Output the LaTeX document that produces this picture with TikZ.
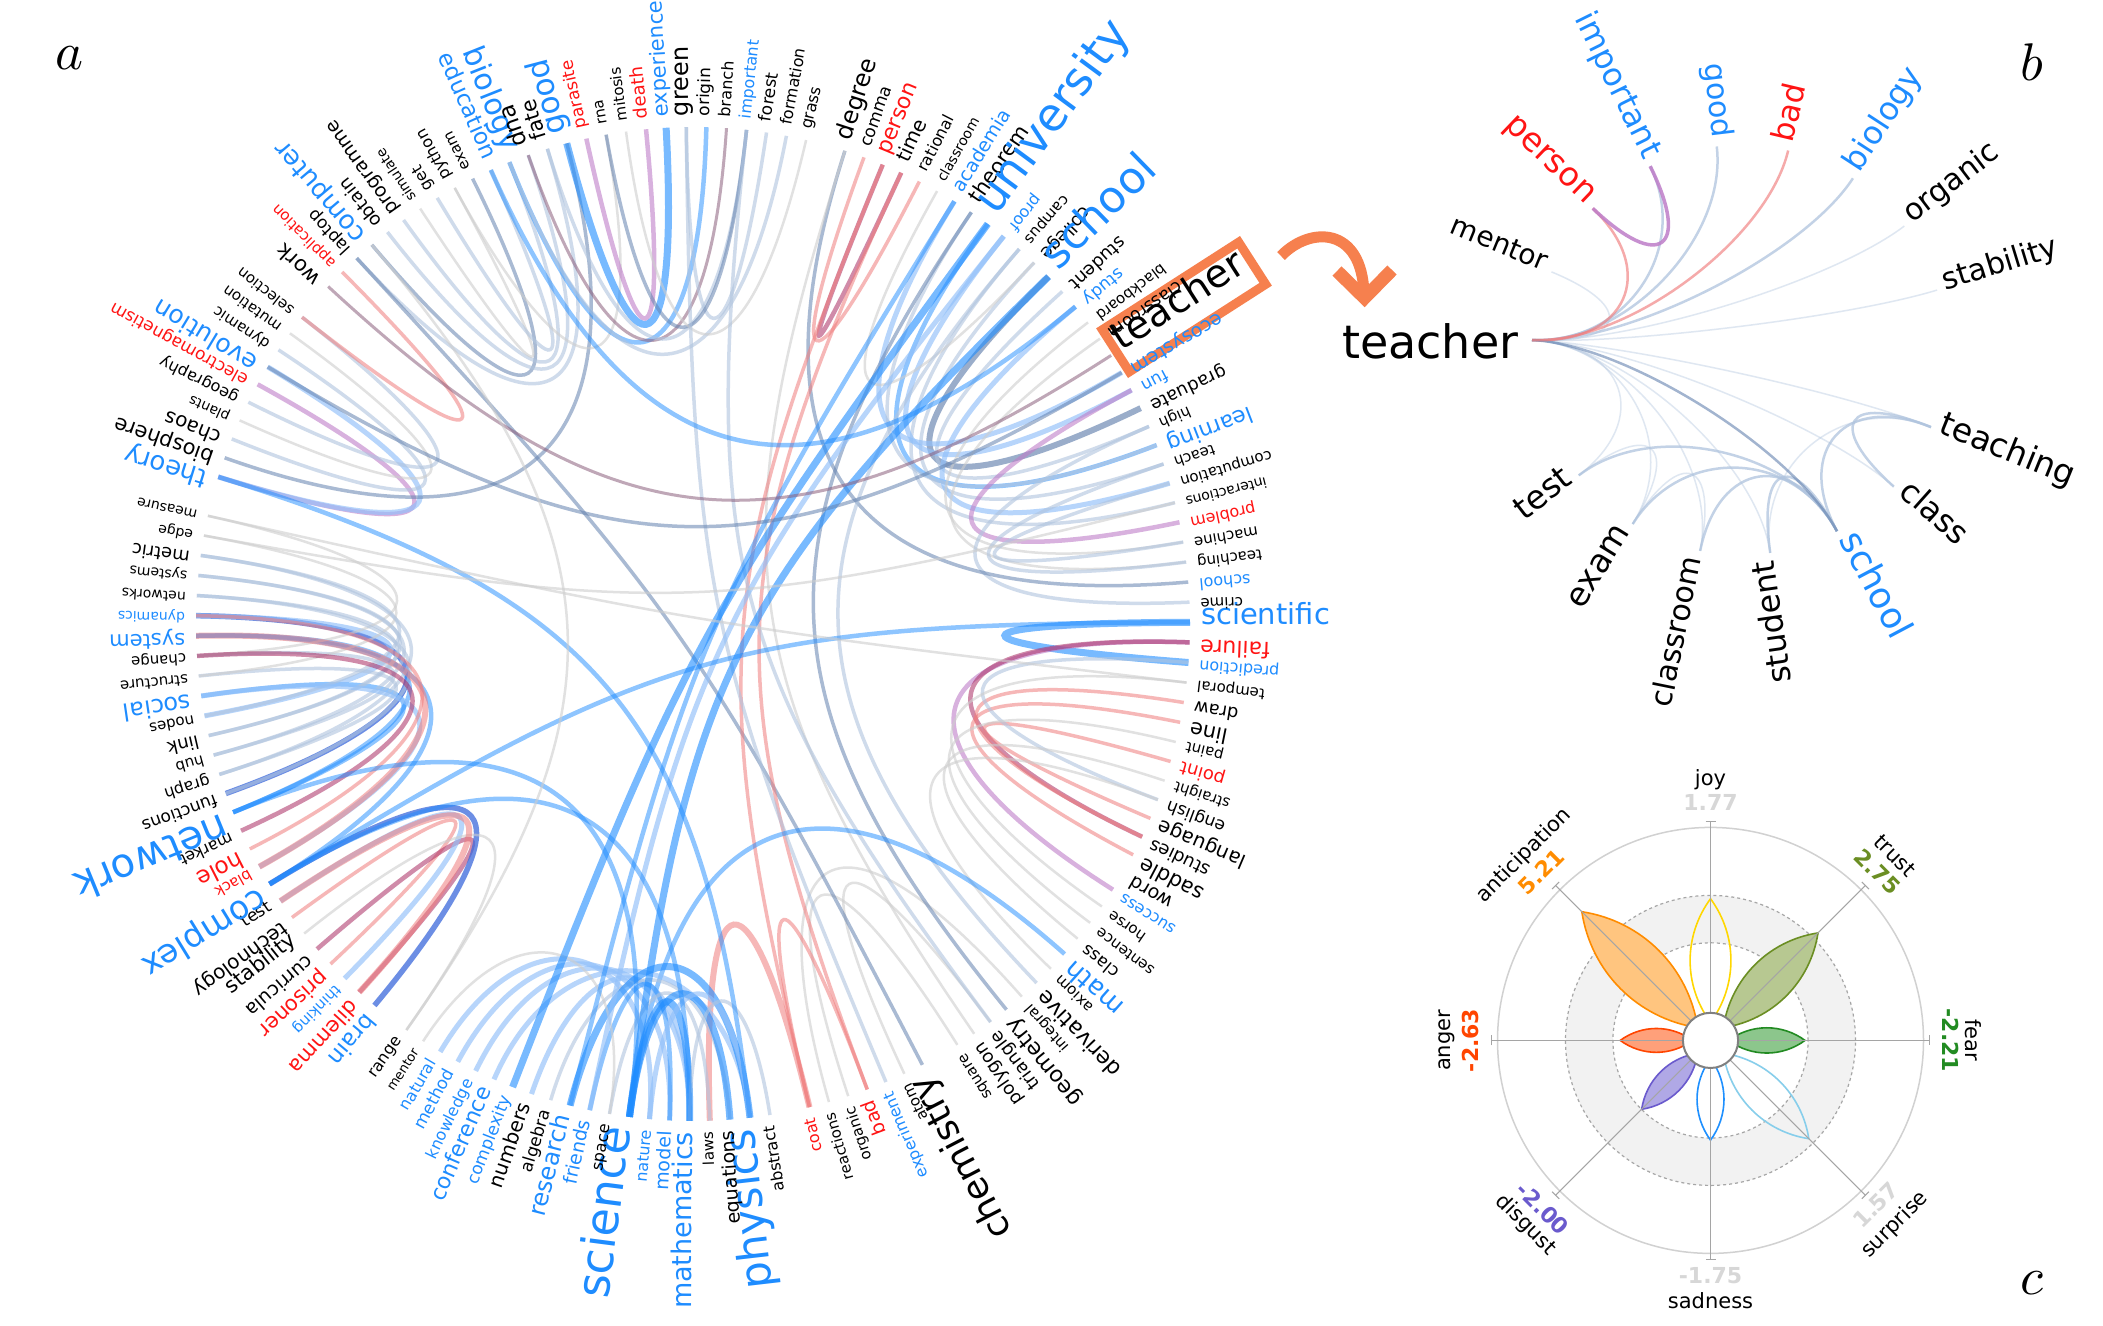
\documentclass[tikz,border=0pt]{standalone}
\usepackage{fontspec}
\setmainfont{DejaVu Sans}
\usetikzlibrary{calc}
\definecolor{wblue}{RGB}{30,140,255}
\definecolor{wred}{RGB}{255,20,20}
\definecolor{lsb}{RGB}{176,196,222}
\definecolor{stb}{RGB}{100,130,175}
\definecolor{pnk}{RGB}{240,125,125}
\definecolor{purp}{RGB}{190,125,200}
\definecolor{dmag}{RGB}{170,45,100}
\definecolor{lgr}{RGB}{205,205,205}
\definecolor{lbl}{RGB}{145,192,250}
\definecolor{royal}{RGB}{60,105,220}
\definecolor{mauve}{RGB}{140,95,125}
\definecolor{orng}{RGB}{246,128,78}
\definecolor{numgray}{RGB}{215,215,215}
\definecolor{axc}{RGB}{165,165,165}
\definecolor{antf}{RGB}{255,197,127}\definecolor{antd}{RGB}{255,140,0}
\definecolor{trf}{RGB}{183,200,145}\definecolor{trd}{RGB}{107,142,35}
\definecolor{fef}{RGB}{140,198,140}\definecolor{fed}{RGB}{34,139,34}
\definecolor{sud}{RGB}{135,206,235}\definecolor{sad}{RGB}{30,144,255}
\definecolor{dif}{RGB}{176,168,230}\definecolor{did}{RGB}{106,90,205}
\definecolor{anf}{RGB}{255,160,122}\definecolor{and}{RGB}{255,69,0}
\definecolor{joyd}{RGB}{255,215,0}
\tikzset{
 wordn/.style={inner sep=0pt, outer sep=0pt},
 eB/.style={draw=wblue, draw opacity=.6, line width=7pt},
 eb/.style={draw=wblue, draw opacity=.5, line width=4.5pt},
 eR/.style={draw=royal, draw opacity=.75, line width=5.5pt},
 el/.style={draw=lbl, draw opacity=.65, line width=5pt},
 es/.style={draw=lsb, draw opacity=.6, line width=3.5pt},
 eS/.style={draw=stb, draw opacity=.55, line width=3.5pt},
 eST/.style={draw=stb, draw opacity=.65, line width=6pt},
 ep/.style={draw=pnk, draw opacity=.55, line width=3.5pt},
 epT/.style={draw=pnk, draw opacity=.55, line width=6pt},
 eP/.style={draw=purp, draw opacity=.6, line width=4.5pt},
 em/.style={draw=dmag, draw opacity=.55, line width=4.5pt},
 eg/.style={draw=lgr, draw opacity=.6, line width=2.5pt},
 eM/.style={draw=mauve, draw opacity=.55, line width=3pt},
 sbS/.style={draw=stb, draw opacity=.6, line width=2.5pt},
 sbs/.style={draw=lsb, draw opacity=.75, line width=2.5pt},
 sbf/.style={draw=lsb, draw opacity=.4, line width=1.5pt},
 sbp/.style={draw=pnk, draw opacity=.65, line width=2.5pt},
 sbP/.style={draw=purp, draw opacity=.85, line width=3.5pt},
 clab/.style={inner sep=0pt, font=\fontsize{21}{21}\selectfont},
 cnum/.style={inner sep=0pt, font=\fontsize{22}{22}\selectfont\bfseries},
 plab/.style={inner sep=0pt, scale=5.3},
}
% word of panel a: slot, text, size, colour, flip
\newcommand{\W}[5]{%
  \pgfmathsetmacro\wth{0.2-(#1-1)*2.32258}%
  \pgfmathsetmacro\wthf{\wth+180}%
  \ifnum#5=0\relax
    \node[wordn, rotate=\wth, anchor=mid west, text=#4, font=\fontsize{#3}{#3}\selectfont] (w#1) at (\wth:508) {#2};%
  \else
    \node[wordn, rotate=\wthf, anchor=mid east, text=#4, font=\fontsize{#3}{#3}\selectfont] (w#1) at (\wth:508) {#2};%
  \fi}
% edge of panel a
\newcommand{\E}[4][x]{%
  \pgfmathsetmacro\edgA{0.2-(#2-1)*2.32258}%
  \pgfmathsetmacro\edgB{0.2-(#3-1)*2.32258}%
  \pgfmathsetmacro\edgD{abs(#2-#3)*2.32258}%
  \pgfmathsetmacro\edgD{min(\edgD,360-\edgD)}%
  \def\edgT{#1}\def\edgX{x}%
  \ifx\edgT\edgX\pgfmathsetmacro\edgR{495*0.52*(1-\edgD/180)}\else\pgfmathsetmacro\edgR{#1}\fi
  \draw[#4] (p#2) .. controls (\edgA:\edgR) and (\edgB:\edgR) .. (p#3);}
% word of panel b
\newcommand{\BW}[6]{%
  \pgfmathsetmacro\bwa{#2}\pgfmathsetmacro\bwf{#2+180}%
  \ifnum#6=0\relax
    \node[wordn, rotate=\bwa, anchor=mid west, text=#5, font=\fontsize{#4}{#4}\selectfont] (t#1) at ($(cb)+(#2:213)$) {#3};%
  \else
    \node[wordn, rotate=\bwf, anchor=mid east, text=#5, font=\fontsize{#4}{#4}\selectfont] (t#1) at ($(cb)+(#2:213)$) {#3};%
  \fi
  \coordinate (#1) at ($(cb)+(#2:205)$);}
\newcommand{\BE}[3]{\draw[#3] (#1) .. controls ($(#1)!0.45!(cb)$) and ($(#2)!0.45!(cb)$) .. (#2);}
% petal of panel c: angle, tip radius, draw colour, fill
\newcommand{\petal}[4]{%
  \begin{scope}[rotate=#1]
    \pgfmathsetmacro\ptL{#2-18}%
    \pgfmathsetmacro\ptA{18+0.3*\ptL}\pgfmathsetmacro\ptB{18+0.7*\ptL}\pgfmathsetmacro\ptH{0.22*\ptL}%
    \path[draw=#3, line width=1.6pt, #4] (18,0) .. controls (\ptA,\ptH) and (\ptB,\ptH) .. (#2,0) .. controls (\ptB,-\ptH) and (\ptA,-\ptH) .. cycle;
  \end{scope}}
\begin{document}
\begin{tikzpicture}[x=1pt,y=1pt]
\fill[white] (0,0) rectangle (2103,-1325);
\useasboundingbox (0,0) rectangle (2103,-1325);

%================ panel a =================
\begin{scope}[shift={(693,-624)}]
\foreach \k in {1,...,155}{\pgfmathsetmacro\pth{0.2-(\k-1)*2.32258}\coordinate (p\k) at (\pth:497);}
% left cluster
\E{70}{79}{eR}\E{69}{75}{eb}\E{69}{78}{eb}\E{65}{78}{eb}
\E{71}{82}{es}\E{72}{81}{es}\E{73}{80}{es}\E{74}{79}{el}
\E{76}{71}{es}\E{77}{72}{es}\E{76}{83}{eg}\E{77}{84}{eg}
\E{80}{70}{es}\E{81}{73}{es}\E{82}{74}{es}\E{75}{66}{el}
\E{67}{79}{ep}\E{68}{77}{em}\E{66}{78}{epT}
% lower left
\E{60}{63}{ep}\E{61}{58}{em}\E{57}{65}{eR}\E{59}{64}{el}\E{62}{55}{eg}\E{58}{64}{epT}
% theory group
\E{86}{91}{eP}\E{86}{92}{el}\E{88}{93}{es}\E{89}{94}{eg}\E{90}{95}{es}\E{87}{111}{eS}
% top left
\E{100}{106}{eS}\E{101}{109}{es}\E{102}{108}{es}\E{99}{110}{es}\E{103}{105}{eg}
\E{104}{107}{es}\E{98}{95}{ep}\E{105}{113}{eg}
% top
\E{111}{116}{eB}\E{112}{115}{eP}\E{108}{118}{eb}\E{109}{119}{eM}\E{110}{120}{es}
\E{117}{121}{es}\E{120}{113}{eS}\E{122}{108}{es}\E{114}{123}{eg}
% top right
\E{127}{128}{em}\E{126}{129}{ep}\E{133}{147}{eb}\E{137}{145}{eST}\E{136}{148}{es}
\E{138}{146}{es}\E{139}{149}{el}\E{135}{150}{es}\E{131}{143}{el}\E{132}{147}{es}
\E{134}{144}{el}\E{140}{152}{eg}\E{141}{153}{eg}\E{144}{151}{eP}\E{152}{149}{es}
\E{153}{148}{es}\E{155}{146}{es}\E{130}{136}{eg}\E{154}{125}{eS}
% right
\E{1}{3}{eB}\E{2}{15}{eP}\E{2}{12}{em}\E{6}{13}{ep}\E{8}{11}{ep}\E{5}{12}{ep}
\E{3}{10}{es}\E{4}{16}{eg}\E{7}{17}{eg}\E{9}{18}{eg}\E{10}{20}{eg}
% bottom right
\E{24}{29}{eg}\E{26}{32}{eg}\E{22}{33}{eg}\E{23}{132}{eS}\E{21}{135}{es}\E{25}{125}{eg}
\E{28}{99}{eS}\E{31}{34}{ep}\E{34}{39}{epT}\E{31}{128}{ep}\E{34}{127}{ep}
\E{30}{117}{es}\E{24}{120}{es}\E{19}{43}{eb}
% bottom
\E[320]{53}{42}{el}\E[320]{52}{41}{el}\E[320]{51}{40}{el}\E[320]{50}{37}{el}
\E[320]{48}{40}{el}\E[320]{47}{38}{es}\E[300]{46}{37}{eB}\E[320]{45}{41}{eb}
\E[330]{44}{39}{es}\E[330]{43}{38}{eB}\E[340]{43}{40}{eB}\E[330]{42}{37}{el}
\E[340]{40}{36}{es}\E[320]{54}{44}{eg}
% long
\E{49}{133}{eB}\E{43}{137}{eB}\E{46}{131}{eb}\E{45}{134}{el}\E{86}{37}{eb}
\E{1}{65}{eb}\E{107}{139}{eb}\E{97}{142}{eM}\E{92}{143}{eS}\E{69}{43}{eb}
\E{65}{40}{eb}\E{84}{4}{eg}\E{83}{150}{eg}\E{55}{100}{eg}

% highlight box (under the words)
\node[draw=orng, line width=9pt, rotate=32.7, minimum width=162pt, minimum height=50pt, inner sep=0pt] (tbox) at (491,317) {};

% words
\W{1}{scientific}{29}{wblue}{0}
\W{2}{failure}{22}{wred}{1}
\W{3}{prediction}{16}{wblue}{1}
\W{4}{temporal}{15}{black}{1}
\W{5}{draw}{18}{black}{1}
\W{6}{line}{21}{black}{1}
\W{7}{paint}{15}{black}{1}
\W{8}{point}{18}{wred}{1}
\W{9}{straight}{15}{black}{1}
\W{10}{english}{17}{black}{1}
\W{11}{language}{20}{black}{1}
\W{12}{studies}{18}{black}{1}
\W{13}{saddle}{21}{black}{1}
\W{14}{word}{19}{black}{1}
\W{15}{success}{16}{wblue}{1}
\W{16}{horse}{15}{black}{1}
\W{17}{sentence}{15}{black}{1}
\W{18}{class}{17}{black}{1}
\W{19}{math}{26}{wblue}{1}
\W{20}{axiom}{15}{black}{1}
\W{21}{derivative}{22}{black}{1}
\W{22}{integral}{15}{black}{1}
\W{23}{geometry}{22}{black}{1}
\W{24}{triangle}{18}{black}{1}
\W{25}{polygon}{18}{black}{1}
\W{26}{square}{15}{black}{1}
\W{28}{chemistry}{36}{black}{1}
\W{29}{atom}{15}{black}{1}
\W{30}{experiment}{16}{wblue}{1}
\W{31}{bad}{19}{wred}{1}
\W{32}{organic}{15}{black}{1}
\W{33}{reactions}{15}{black}{1}
\W{34}{coat}{16}{wred}{1}
\W{36}{abstract}{16}{black}{1}
\W{37}{physics}{43}{wblue}{1}
\W{38}{equations}{19}{black}{1}
\W{39}{laws}{15}{black}{1}
\W{40}{mathematics}{27}{wblue}{1}
\W{41}{model}{19}{wblue}{1}
\W{42}{nature}{16}{wblue}{1}
\W{43}{science}{46}{wblue}{1}
\W{44}{space}{16}{black}{1}
\W{45}{friends}{19}{wblue}{1}
\W{46}{research}{24}{wblue}{1}
\W{47}{algebra}{17}{black}{1}
\W{48}{numbers}{20}{black}{1}
\W{49}{complexity}{17}{wblue}{1}
\W{50}{conference}{22}{wblue}{1}
\W{51}{knowledge}{16}{wblue}{1}
\W{52}{method}{17}{wblue}{1}
\W{53}{natural}{16}{wblue}{1}
\W{54}{mentor}{13}{black}{1}
\W{55}{range}{16}{black}{1}
\W{57}{brain}{23}{wblue}{0}
\W{58}{dilemma}{21}{wred}{0}
\W{59}{thinking}{15}{wblue}{0}
\W{60}{prisoner}{21}{wred}{0}
\W{61}{curricula}{19}{black}{0}
\W{62}{stability}{21}{black}{1}
\W{63}{technology}{20}{black}{0}
\W{64}{test}{17}{black}{1}
\W{65}{complex}{33}{wblue}{0}
\W{66}{black}{15}{wred}{0}
\W{67}{hole}{23}{wred}{0}
\W{68}{market}{16}{black}{0}
\W{69}{network}{40}{wblue}{0}
\W{70}{functions}{17}{black}{0}
\W{71}{graph}{16}{black}{0}
\W{72}{hub}{15}{black}{0}
\W{73}{link}{18}{black}{0}
\W{74}{nodes}{15}{black}{0}
\W{75}{social}{24}{wblue}{0}
\W{76}{structure}{15}{black}{0}
\W{77}{change}{15}{black}{0}
\W{78}{system}{21}{wblue}{0}
\W{79}{dynamics}{14}{wblue}{0}
\W{80}{networks}{14}{black}{0}
\W{81}{systems}{14}{black}{0}
\W{82}{metric}{18}{black}{0}
\W{83}{edge}{14}{black}{0}
\W{84}{measure}{14}{black}{0}
\W{86}{theory}{26}{wblue}{0}
\W{87}{biosphere}{21}{black}{0}
\W{88}{chaos}{20}{black}{0}
\W{89}{plants}{14}{black}{0}
\W{90}{geography}{16}{black}{0}
\W{91}{electromagnetism}{17}{wred}{0}
\W{92}{evolution}{25}{wblue}{0}
\W{93}{dynamic}{15}{black}{0}
\W{94}{mutation}{15}{black}{0}
\W{95}{selection}{15}{black}{0}
\W{97}{work}{21}{black}{0}
\W{98}{application}{15}{wred}{0}
\W{99}{laptop}{17}{black}{0}
\W{100}{computer}{26}{wblue}{0}
\W{101}{obtain}{18}{black}{0}
\W{102}{programme}{19}{black}{0}
\W{103}{simulate}{14}{black}{0}
\W{104}{get}{16}{black}{0}
\W{105}{python}{16}{black}{0}
\W{106}{exam}{15}{black}{0}
\W{107}{education}{23}{wblue}{1}
\W{108}{biology}{30}{wblue}{1}
\W{109}{dna}{23}{black}{0}
\W{110}{fate}{21}{black}{0}
\W{111}{good}{31}{wblue}{0}
\W{112}{parasite}{17}{wred}{0}
\W{113}{rna}{15}{black}{0}
\W{114}{mitosis}{15}{black}{0}
\W{115}{death}{18}{wred}{0}
\W{116}{experience}{21}{wblue}{0}
\W{117}{green}{24}{black}{0}
\W{118}{origin}{17}{black}{0}
\W{119}{branch}{16}{black}{0}
\W{120}{important}{16}{wblue}{0}
\W{121}{forest}{17}{black}{0}
\W{122}{formation}{16}{black}{0}
\W{123}{grass}{16}{black}{0}
\W{125}{degree}{24}{black}{0}
\W{126}{comma}{17}{black}{0}
\W{127}{person}{22}{wred}{0}
\W{128}{time}{20}{black}{0}
\W{129}{rational}{16}{black}{0}
\W{130}{classroom}{14}{black}{0}
\W{131}{academia}{19}{wblue}{0}
\W{132}{theorem}{21}{black}{0}
\W{133}{university}{46}{wblue}{0}
\W{134}{proof}{16}{wblue}{1}
\W{135}{campus}{15}{black}{1}
\W{136}{college}{18}{black}{1}
\W{137}{school}{44}{wblue}{0}
\W{138}{student}{18}{black}{1}
\W{139}{study}{17}{wblue}{1}
\W{140}{blackboard}{15}{black}{1}
\W{141}{classroom}{17}{black}{1}
\W{142}{teacher}{39}{black}{0}
\W{143}{ecosystem}{19}{wblue}{1}
\W{144}{fun}{17}{wblue}{1}
\W{145}{graduate}{18}{black}{1}
\W{146}{high}{15}{black}{1}
\W{147}{learning}{22}{wblue}{1}
\W{148}{teach}{15}{black}{1}
\W{149}{computation}{15}{black}{1}
\W{150}{interactions}{14}{black}{1}
\W{151}{problem}{16}{wred}{1}
\W{152}{machine}{15}{black}{1}
\W{153}{teaching}{15}{black}{1}
\W{154}{school}{16}{wblue}{1}
\W{155}{crime}{15}{black}{1}
\end{scope}

% arrow
\coordinate (ar0) at (1281,-256);
\coordinate (ar1) at (1364,-294);
\coordinate (arl) at (1337,-271);
\coordinate (arr) at (1392,-270);
\draw[orng, line width=11pt] (ar0) .. controls (1310,-226) and (1362,-226) .. (ar1);
\draw[orng, line width=13pt, line join=miter] (arl) -- (1364.5,-298) -- (arr);

% panel letters
\node[plab] (la) at (70,-58) {$a$};
\node[plab] (lb) at (2032,-62) {$b$};
\node[plab] (lc) at (2032,-1283) {$c$};

%================ panel b =================
\coordinate (cb) at (1741,-350);
\coordinate (hb) at (1532,-340);
\node[wordn, anchor=base west, font=\fontsize{46}{46}\selectfont] (bteach) at (1342,-358) {teacher};
\BW{bm}{157.6}{mentor}{28}{black}{1}
\BW{bp}{136.3}{person}{33}{wred}{1}
\BW{bi}{116.3}{important}{32}{wblue}{1}
\BW{bg}{96.8}{good}{30}{wblue}{1}
\BW{bb}{76.7}{bad}{31}{wred}{0}
\BW{bbi}{56.9}{biology}{32}{wblue}{0}
\BW{bo}{37.2}{organic}{30}{black}{0}
\BW{bs}{17.0}{stability}{30}{black}{0}
\BW{bt}{-22.1}{teaching}{33}{black}{0}
\BW{bc}{-41.8}{class}{32}{black}{0}
\BW{bsc}{-62.1}{school}{36}{wblue}{0}
\BW{bst}{-81.8}{student}{32}{black}{1}
\BW{bcl}{-101.5}{classroom}{30}{black}{1}
\BW{be}{-121.9}{exam}{33}{black}{1}
\BW{bte}{-142.3}{test}{33}{black}{1}
\BE{hb}{bo}{sbf}\BE{hb}{bs}{sbf}\BE{hb}{bm}{sbf}\BE{hb}{bt}{sbf}\BE{hb}{bc}{sbf}
\BE{hb}{bst}{sbf}\BE{hb}{bcl}{sbf}\BE{hb}{be}{sbf}\BE{hb}{bte}{sbf}
\BE{bst}{bt}{sbf}\BE{bte}{be}{sbf}\BE{be}{bcl}{sbf}
\BE{bte}{bsc}{sbs}\BE{be}{bsc}{sbs}\BE{bcl}{bsc}{sbs}\BE{bst}{bsc}{sbs}
\BE{bsc}{bt}{sbs}\BE{bc}{bt}{sbs}
\BE{hb}{bi}{sbs}\BE{hb}{bg}{sbs}\BE{hb}{bbi}{sbs}\BE{hb}{bb}{sbp}
\BE{hb}{bsc}{sbS}\BE{hb}{bp}{sbp}\BE{bp}{bi}{sbP}

%================ panel c =================
\begin{scope}[shift={(1710.5,-1040.4)}]
\fill[black!5, even odd rule] (0,0) circle (145) (0,0) circle (97.6);
\draw[black!35, dashed, line width=1.2pt] (0,0) circle (145);
\draw[black!35, dashed, line width=1.2pt] (0,0) circle (97.6);
\draw[black!18, line width=1.5pt] (0,0) circle (213);
\petal{135}{182}{antd}{fill=antf}
\petal{45}{152}{trd}{fill=trf}
\petal{0}{94.5}{fed}{fill=fef}
\petal{180}{90.3}{and}{fill=anf}
\petal{-135}{97.4}{did}{fill=dif}
\petal{90}{141.7}{joyd}{fill=none}
\petal{-45}{139}{sud}{fill=none}
\petal{-90}{99.7}{sad}{fill=none}
\foreach \a in {0,45,...,315}{
  \draw[axc, line width=1.1pt] (0,0) -- (\a:219);
  \draw[axc, line width=1.1pt] ($(\a:219)+({\a+90}:5)$) -- ($(\a:219)+({\a-90}:5)$);
}
\filldraw[fill=white, draw=black!50, line width=2pt] (0,0) circle (27.6);
\end{scope}
\node[clab] (cjoy) at (1710.5,-780) {joy};
\node[cnum, text=numgray] (njoy) at (1710.5,-802.5) {1.77};
\node[clab, rotate=45] (cant) at (1523.8,-855.5) {anticipation};
\node[cnum, text=antd, rotate=45] (nant) at (1541,-871.7) {5.21};
\node[clab, rotate=-45] (ctru) at (1895,-855.5) {trust};
\node[cnum, text=trd, rotate=-45] (ntru) at (1877.8,-871.7) {2.75};
\node[clab, rotate=-90] (cfea) at (1973.4,-1040.4) {fear};
\node[cnum, text=fed, rotate=-90] (nfea) at (1950.5,-1040.4) {-2.21};
\node[clab, rotate=45] (csur) at (1895,-1224.9) {surprise};
\node[cnum, text=numgray, rotate=45] (nsur) at (1875.8,-1205) {1.57};
\node[clab] (csad) at (1710.5,-1300.5) {sadness};
\node[cnum, text=numgray] (nsad) at (1710.5,-1276) {-1.75};
\node[clab, rotate=-45] (cdis) at (1525.7,-1224.9) {disgust};
\node[cnum, text=did, rotate=-45] (ndis) at (1542.9,-1208.6) {-2.00};
\node[clab, rotate=90] (cang) at (1447.2,-1040.4) {anger};
\node[cnum, text=and, rotate=90] (nang) at (1470.2,-1040.4) {-2.63};
\end{tikzpicture}
\end{document}
